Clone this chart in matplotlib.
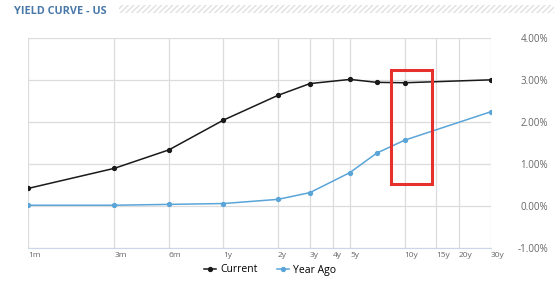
import numpy as np
import matplotlib.pyplot as plt
from matplotlib.patches import Rectangle

# maturities (months) and labels
tick_months = [1, 3, 6, 12, 24, 36, 48, 60, 120, 180, 240, 360]
tick_labels = ["1m", "3m", "6m", "1y", "2y", "3y", "4y", "5y", "10y", "15y", "20y", "30y"]

# points on the curve
point_months = [1, 3, 6, 12, 24, 36, 60, 84, 120, 360]
current = [0.42, 0.90, 1.34, 2.05, 2.64, 2.92, 3.02, 2.95, 2.94, 3.01]
year_ago = [0.02, 0.02, 0.04, 0.06, 0.16, 0.32, 0.80, 1.26, 1.57, 2.25]

y_ticks = [-1, 0, 1, 2, 3, 4]

# highlight box (months, %)
box_x = (101, 171)
box_y = (0.52, 3.25)

plt.rcParams['font.family'] = ['Open Sans', 'DejaVu Sans']

fig = plt.figure(figsize=(5.54, 2.90), dpi=100)
ax = fig.add_axes([28/554, 42/290, 463/554, 209.7/290])

ax.plot(point_months, current, color='#1a1a1a', lw=1.1, marker='o', ms=2.8, label='Current')
ax.plot(point_months, year_ago, color='#5aa5d8', lw=1.1, marker='o', ms=2.8, label='Year Ago')

ax.set_xscale('log')
ax.set_xlim(1, 360)
ax.set_ylim(-1, 4)
ax.set_xticks(tick_months)
ax.set_xticklabels(tick_labels, ha='left')
ax.minorticks_off()
ax.set_yticks(y_ticks)
ax.set_yticklabels([f"{v:.2f}%" for v in y_ticks], ha='right')
ax.yaxis.tick_right()
ax.tick_params(axis='y', length=0, pad=41, labelsize=7, labelcolor='#666666')
ax.tick_params(axis='x', length=0, pad=3, labelsize=6, labelcolor='#666666')

ax.grid(True, color='#dcdcdc', lw=0.9)
for s in ['top', 'right', 'left']:
    ax.spines[s].set_visible(False)
ax.spines['bottom'].set_color('#ccd6eb')

ax.add_patch(Rectangle((box_x[0], box_y[0]), box_x[1] - box_x[0], box_y[1] - box_y[0],
                       fill=False, edgecolor='#e5302c', lw=2.2, zorder=5))

# title and hatched band
fig.text(14/554, 1 - 13.5/290, "YIELD CURVE - US", fontsize=7.8, fontweight='bold',
         color='#4a78a8', va='baseline')
fig.patches.append(Rectangle((119/554, 1 - 13/290), 1 - 119/554, 8/290, transform=fig.transFigure,
                             fill=False, hatch='//////', edgecolor='#e0e0e0', lw=0))

fig.legend(loc='center', bbox_to_anchor=(270/554, 1 - 270/290), ncol=2, frameon=False,
           fontsize=7.5, handlelength=1.2, handletextpad=0.4, columnspacing=1.8)

fig.savefig('out.png', dpi=100)
